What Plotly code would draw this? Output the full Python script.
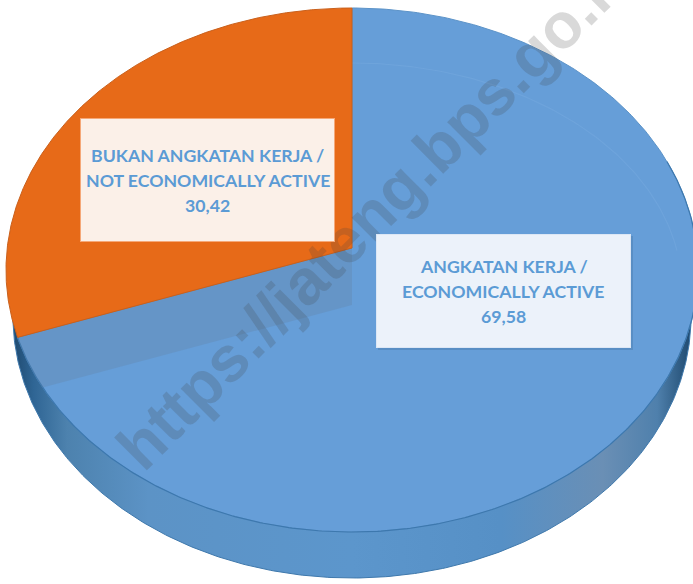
import numpy as np
import plotly.graph_objects as go

# ---- data ----
categories = ["ANGKATAN KERJA /<br>ECONOMICALLY ACTIVE", "BUKAN ANGKATAN KERJA /<br>NOT ECONOMICALLY ACTIVE"]
values = [69.58, 30.42]
value_labels = ["69,58", "30,42"]
slice_colors = ["#669ED8", "#E76A18"]
box_colors = ["#ECF2FA", "#FBF0E8"]
box_borders = ["#DCE7F5", "#F5A878"]
box_shadows = ["rgba(40,80,120,0.2)", "rgba(180,80,20,0.0)"]
watermark = "https://jateng.bps.go.id"

W, H = 693, 584
CX, CY = 352, 248          # projected pie centre
A, B, C = 344.8, 239.33, -0.08397   # perspective of the tilted disc
DEPTH = 46
INK = "#5B9BD5"
LABEL_FONT = "Lato"
FS = 17.7


def project(u, v):
    d = C * v + 1
    return CX + A * u / d, (B * v + CY) / d


def rim(t0, t1, n=360):
    t = np.radians(np.linspace(t0, t1, n))
    return project(np.sin(t), -np.cos(t))


fractions = np.cumsum(values) / np.sum(values) * 360
split = fractions[0]

fig = go.Figure()

# extruded side
xf, yf = rim(0, 360, 720)
xs = CX + (xf - CX) * 0.98
ys = yf + DEPTH
fig.add_trace(go.Scatter(
    x=xs, y=ys, mode="lines", fill="toself",
    line=dict(color="#3E78AC", width=1),
    fillgradient=dict(type="horizontal", colorscale=[
        [0.0, "#1F4A70"], [0.03, "#2F6594"], [0.08, "#4D82AE"], [0.2, "#5C93C6"],
        [0.5, "#5C96CC"], [0.72, "#5690C6"], [0.87, "#6A8FB5"], [0.95, "#4F80AC"], [1.0, "#1F4A70"]]),
    hoverinfo="skip"))

# top faces
x0, y0 = rim(0, split)
fig.add_trace(go.Scatter(
    x=np.r_[CX, x0, CX], y=np.r_[CY, y0, CY], mode="lines", fill="toself",
    fillcolor=slice_colors[0], line=dict(color="#5C93C8", width=1), hoverinfo="skip"))

# faint inner ring on the blue face
ring_t = np.radians(np.linspace(0, 80, 90))
fig.add_trace(go.Scatter(
    x=CX + 330 * np.sin(ring_t), y=290 - 227 * np.cos(ring_t), mode="lines",
    line=dict(color="rgba(120,170,225,0.45)", width=1.2), hoverinfo="skip"))

# front edge of the top face
fig.add_trace(go.Scatter(x=rim(70, split)[0], y=rim(70, split)[1], mode="lines",
                         line=dict(color="#3D78AE", width=1.2), hoverinfo="skip"))

# shadow cast by the orange slice on the blue face
x1, y1 = rim(split, 360)
ex, ey = x1[0], y1[0]
SHADOW = 57
bx, by = rim(split - 40, split)
line_y = CY + SHADOW + (ey - CY) * (bx - CX) / (ex - CX)
keep = by <= line_y
fig.add_trace(go.Scatter(
    x=np.r_[CX, CX, bx[keep]], y=np.r_[CY, CY + SHADOW, by[keep]],
    mode="lines", fill="toself", fillcolor="rgba(100,130,165,0.32)",
    line=dict(width=0), hoverinfo="skip"))

# orange slice
fig.add_trace(go.Scatter(
    x=np.r_[CX, x1, CX], y=np.r_[CY, y1, CY], mode="lines", fill="toself",
    fillcolor=slice_colors[1], line=dict(color="#C9601C", width=1), hoverinfo="skip"))

# label boxes: centre x, centre y, width, height
box_pos = [(503.5, 291, 255, 114), (207.5, 180, 255, 124)]
shapes = []
annotations = [dict(
    text=f"<b>{watermark}</b>", x=377, y=209, xref="x", yref="y", showarrow=False,
    textangle=-45, font=dict(family="Liberation Sans", size=64, color="rgba(65,65,65,0.2)"),
    xanchor="center", yanchor="middle")]
for i, (bxc, byc, bw, bh) in enumerate(box_pos):
    shapes.append(dict(type="rect", xref="x", yref="y", layer="above",
                       x0=bxc - bw / 2 + 2, x1=bxc + bw / 2 + 2, y0=byc - bh / 2 + 2, y1=byc + bh / 2 + 2,
                       fillcolor=box_shadows[i], line=dict(width=0)))
    annotations.append(dict(x=bxc, y=byc, xref="x", yref="y", showarrow=False, text=" ",
                            width=bw - 2, height=bh - 2, bgcolor=box_colors[i],
                            bordercolor=box_borders[i], borderwidth=1, borderpad=0,
                            xanchor="center", yanchor="middle"))
    lines = categories[i].split("<br>") + [value_labels[i]]
    for k, line in enumerate(lines):
        annotations.append(dict(x=bxc, y=byc + (k - 1) * 25, xref="x", yref="y", showarrow=False,
                                text=f"<b>{line}</b>", xanchor="center", yanchor="middle",
                                font=dict(family=LABEL_FONT, size=FS, color=INK)))

fig.update_layout(
    width=W, height=H, margin=dict(l=0, r=0, t=0, b=0),
    paper_bgcolor="white", plot_bgcolor="white", showlegend=False,
    xaxis=dict(range=[0, W], visible=False, fixedrange=True),
    yaxis=dict(range=[H, 0], visible=False, fixedrange=True),
    shapes=shapes, annotations=annotations,
)
fig.write_html("out.html", config=dict(displayModeBar=False),
               post_script="document.body.style.margin='0';document.documentElement.style.overflow='hidden';")
